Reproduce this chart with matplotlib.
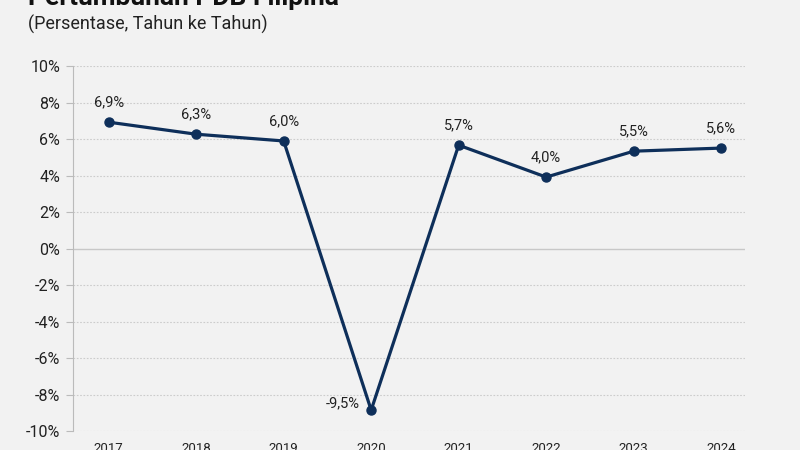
import matplotlib.pyplot as plt

# data
years = ["2017", "2018", "2019", "2020", "2021", "2022", "2023", "2024"]
growth = [6.93, 6.27, 5.9, -8.85, 5.67, 3.92, 5.34, 5.51]
labels = ["6,9%", "6,3%", "6,0%", "-9,5%", "5,7%", "4,0%", "5,5%", "5,6%"]
yticks = [10, 8, 6, 4, 2, 0, -2, -4, -6, -8, -10]

bg = "#f2f2f2"
navy = "#0e2f5a"
plt.rcParams["font.family"] = ["Roboto", "DejaVu Sans"]

fig = plt.figure(figsize=(8, 4.5), dpi=100, facecolor=bg)
ax = fig.add_axes([0.091, 0.042, 0.84, 0.811], facecolor=bg)

x = list(range(len(years)))
ax.plot(x, growth, color=navy, lw=2.3, marker="o", markersize=6.5, zorder=3)

for i, (v, t) in enumerate(zip(growth, labels)):
    if v < 0:
        ax.annotate(t, (i, v), xytext=(-8, 0), textcoords="offset points",
                    ha="right", va="bottom", fontsize=10.5, color="#222222")
    else:
        ax.annotate(t, (i, v), xytext=(0, 9), textcoords="offset points",
                    ha="center", va="bottom", fontsize=10.5, color="#222222")

ax.set_xlim(-0.41, 7.27)
ax.set_ylim(-10, 10)
ax.set_yticks(yticks)
ax.set_yticklabels([f"{t}%" for t in yticks])
ax.set_xticks(x)
ax.set_xticklabels(years)
ax.tick_params(axis="y", length=5, color="#bbbbbb", labelsize=11.5, labelcolor="#222222", pad=4)
ax.tick_params(axis="x", length=0, labelsize=9.5, labelcolor="#222222", pad=8)

for t in yticks:
    if t == 0:
        ax.axhline(0, color="#c8c8c8", lw=1.0, zorder=1)
    else:
        ax.axhline(t, color="#cccccc", lw=0.8, ls=(0, (1.5, 1.5)), zorder=1)

for s in ["top", "right", "bottom"]:
    ax.spines[s].set_visible(False)
ax.spines["left"].set_color("#bbbbbb")

fig.text(0.035, 0.978, "Pertumbuhan PDB Filipina", fontsize=19, fontweight="bold",
         color="#111111", va="bottom", ha="left")
fig.text(0.035, 0.945, "(Persentase, Tahun ke Tahun)", fontsize=13,
         color="#222222", va="center", ha="left")

fig.savefig("out.png", dpi=100, facecolor=bg)
